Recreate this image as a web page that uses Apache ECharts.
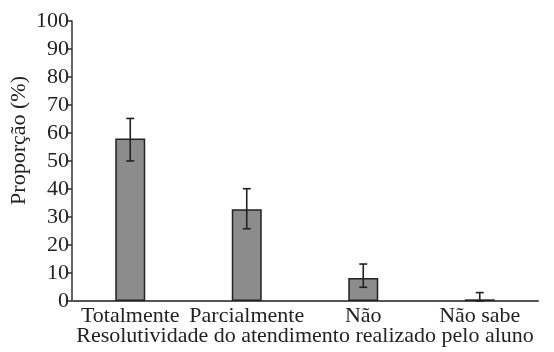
<!DOCTYPE html>
<html>
<head>
<meta charset="utf-8">
<script src="https://cdn.jsdelivr.net/npm/echarts@6/dist/echarts.min.js"></script>
<style>
  html, body { margin: 0; padding: 0; background: #fff; }
  #chart { width: 554px; height: 352px; }
</style>
</head>
<body>
<div id="chart"></div>
<script>
// Resolutividade do atendimento: proporção por categoria com barras de erro
const categories = ['Totalmente', 'Parcialmente', 'Não', 'Não sabe'];
const proportion = [58, 32.8, 8.2, 0.6];
const errLow = [50, 25.8, 4.9, 0];
const errHigh = [65.2, 40.1, 13.2, 3.0];
const yTicks = [0, 10, 20, 30, 40, 50, 60, 70, 80, 90, 100];

const serif = '"Liberation Serif", "DejaVu Serif", serif';
const fontSize = 22;
const chart = echarts.init(document.getElementById('chart'), null, { renderer: 'canvas' });

const errorData = categories.map((c, i) => [i, errLow[i], errHigh[i]]);

chart.setOption({
  animation: false,
  backgroundColor: '#ffffff',
  grid: { left: 72, right: 16, top: 21, bottom: 51, containLabel: false, outerBoundsMode: 'none' },
  xAxis: {
    type: 'category',
    data: categories,
    axisLine: { lineStyle: { color: '#555', width: 2 } },
    axisTick: { show: false },
    axisLabel: { interval: 0, color: '#222', fontFamily: serif, fontSize: fontSize, margin: 4 },
    name: 'Resolutividade do atendimento realizado pelo aluno',
    nameLocation: 'middle',
    nameGap: 24,
    nameMoveOverlap: false,
    nameTextStyle: { color: '#222', fontFamily: serif, fontSize: fontSize }
  },
  yAxis: {
    type: 'value',
    min: yTicks[0],
    max: yTicks[yTicks.length - 1],
    interval: 10,
    splitLine: { show: false },
    axisLine: { show: true, lineStyle: { color: '#333', width: 1.5 } },
    axisTick: { show: true, inside: false, length: 4, lineStyle: { color: '#333', width: 1.5 } },
    axisLabel: { color: '#222', fontFamily: serif, fontSize: fontSize, margin: 3 }
  },
  graphic: [{
    type: 'text',
    left: 8,
    top: 76,
    rotation: Math.PI / 2,
    style: {
      text: 'Proporção (%)',
      font: fontSize + 'px ' + serif,
      fill: '#222'
    }
  }],
  series: [
    {
      type: 'bar',
      data: proportion,
      barWidth: 30,
      itemStyle: { color: '#8c8c8c', borderColor: '#222', borderWidth: 1.5 }
    },
    {
      type: 'custom',
      data: errorData,
      z: 10,
      renderItem: function (params, api) {
        const x = api.value(0);
        const lo = api.coord([x, api.value(1)]);
        const hi = api.coord([x, api.value(2)]);
        const cap = 4;
        const style = { stroke: '#222', lineWidth: 1.6 };
        return {
          type: 'group',
          children: [
            { type: 'line', shape: { x1: hi[0], y1: hi[1], x2: lo[0], y2: lo[1] }, style: style },
            { type: 'line', shape: { x1: hi[0] - cap, y1: hi[1], x2: hi[0] + cap, y2: hi[1] }, style: style },
            { type: 'line', shape: { x1: lo[0] - cap, y1: lo[1], x2: lo[0] + cap, y2: lo[1] }, style: style }
          ]
        };
      }
    }
  ]
});
</script>
</body>
</html>
